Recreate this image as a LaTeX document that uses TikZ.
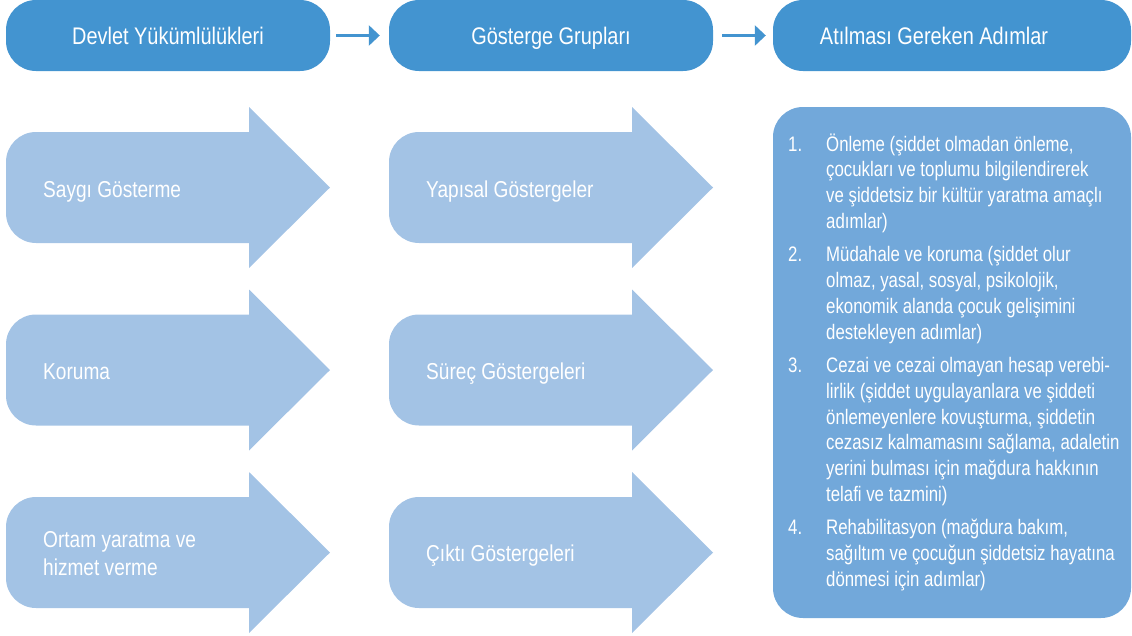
\documentclass[tikz,border=0pt]{standalone}
\usepackage{fontspec}
\setmainfont{Liberation Sans}[FakeStretch=0.83]
\newfontfamily\panelfont{Liberation Sans}[FakeStretch=0.8]
\usetikzlibrary{arrows.meta}
\definecolor{headblue}{RGB}{67,148,208}
\definecolor{arrowblue}{RGB}{163,195,229}
\definecolor{panelblue}{RGB}{114,168,218}

\begin{document}
\begin{tikzpicture}[
    x=1pt,
    y=-1pt,
    header/.style={
        rectangle,
        rounded corners=30pt,
        fill=headblue,
        text=white,
        minimum width=324pt,
        minimum height=71pt,
        text height=20pt,
        text depth=3pt,
        font=\fontsize{24}{28}\selectfont
    },
    bigarrow/.style={
        fill=arrowblue
    },
    arrowtext/.style={
        anchor=base west,
        align=left,
        text=white,
        inner sep=0pt,
        font=\fontsize{23}{28}\selectfont
    },
    panel/.style={
        rectangle,
        rounded corners=30pt,
        fill=panelblue,
        minimum width=358pt,
        minimum height=511pt
    },
    link/.style={
        draw=headblue,
        line width=3pt,
        -{Triangle[length=11pt,width=20pt]}
    }
]
\useasboundingbox (0,0) rectangle (1132,635);

% Headers
\node[header] (duties) at (168,35.5) {Devlet Yükümlülükleri};
\node[header] (groups) at (551,35.5) {Gösterge Grupları};
\node[header, minimum width=358pt] (actions) at (952,35.5) {Atılması Gereken Adımlar\hspace*{36pt}};

% Arrow shapes
\foreach \ax in {6,389}
    \foreach \ay in {187.5,370,552.5}
        \fill[bigarrow] (\ax+243,\ay-55.5) -- (\ax+30,\ay-55.5)
            arc[start angle=-90, end angle=-180, radius=30] -- (\ax,\ay+25.5)
            arc[start angle=180, end angle=90, radius=30] -- (\ax+243,\ay+55.5)
            -- (\ax+243,\ay+80.5) -- (\ax+324,\ay) -- (\ax+243,\ay-80.5) -- cycle;

\node[arrowtext] (respect) at (43,197) {Saygı Gösterme};
\node[arrowtext] (protect) at (43,379) {Koruma};
\node[arrowtext] (fulfil) at (43,575) {Ortam yaratma ve\\hizmet verme};

\node[arrowtext] (structure) at (426,197) {Yapısal Göstergeler};
\node[arrowtext] (process) at (426,379) {Süreç Göstergeleri};
\node[arrowtext] (outcome) at (426,561) {Çıktı Göstergeleri};

% Steps panel
\node[panel] (panel) at (952,362.5) {};
\node[anchor=base west, inner sep=0pt, text=white, font=\panelfont\fontsize{21}{25.8}\selectfont] (steps) at (788,151) {%
\begin{tabular}[t]{@{}p{38pt}@{}l@{}}
1. & Önleme (şiddet olmadan önleme,\\
   & çocukları ve toplumu bilgilendirerek\\
   & ve şiddetsiz bir kültür yaratma amaçlı\\
   & adımlar)\\[7.5pt]
2. & Müdahale ve koruma (şiddet olur\\
   & olmaz, yasal, sosyal, psikolojik,\\
   & ekonomik alanda çocuk gelişimini\\
   & destekleyen adımlar)\\[7.5pt]
3. & Cezai ve cezai olmayan hesap verebi-\\
   & lirlik (şiddet uygulayanlara ve şiddeti\\
   & önlemeyenlere kovuşturma, şiddetin\\
   & cezasız kalmamasını sağlama, adaletin\\
   & yerini bulması için mağdura hakkının\\
   & telafi ve tazmini)\\[7.5pt]
4. & Rehabilitasyon (mağdura bakım,\\
   & sağıltım ve çocuğun şiddetsiz hayatına\\
   & dönmesi için adımlar)
\end{tabular}};

% Links
\draw[link, shorten <=6pt, shorten >=9pt] (duties) -- (groups);
\draw[link, shorten <=9pt, shorten >=7pt] (groups) -- (actions);

\end{tikzpicture}
\end{document}
